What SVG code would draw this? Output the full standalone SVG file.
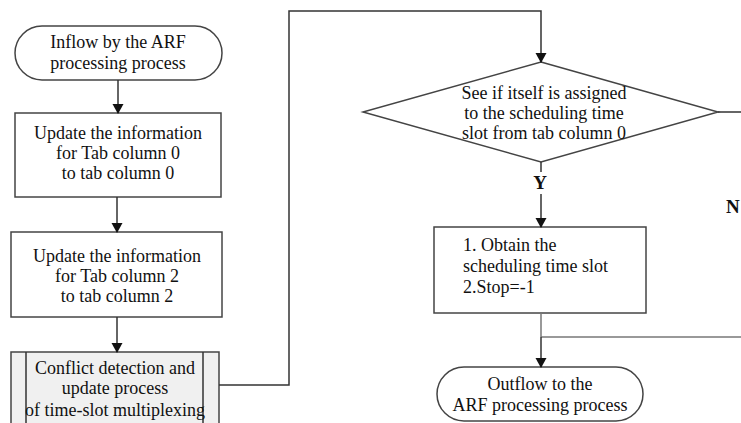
<svg xmlns="http://www.w3.org/2000/svg" width="741" height="423" viewBox="0 0 741 423">
<defs>
<marker id="arr" markerWidth="10" markerHeight="12" refX="9" refY="6" orient="auto" markerUnits="userSpaceOnUse">
<path d="M0,0.5 L10,6 L0,11.5 Z" fill="#111"/>
</marker>
<style>
.shape{fill:#fff;stroke:#444;stroke-width:1.5}
.t{font-family:"Liberation Serif","Times New Roman",serif;font-size:18px;fill:#111;text-anchor:middle}
.l{text-anchor:start}
.b{font-weight:bold;font-size:19px}
.c{fill:none;stroke:#333;stroke-width:1.5}
.cg{fill:none;stroke:#777;stroke-width:1.5}
</style>
</defs>
<rect width="741" height="423" fill="#fff"/>
<g id="start">
<rect class="shape" x="15" y="26" width="207" height="54" rx="27" ry="27"/>
<text class="t" x="118" y="48">Inflow by the ARF</text>
<text class="t" x="118" y="69">processing process</text>
</g>
<g id="update0">
<rect class="shape" x="15" y="113" width="206" height="84"/>
<text class="t" x="118" y="139">Update the information</text>
<text class="t" x="118" y="159">for Tab column 0</text>
<text class="t" x="118" y="179">to tab column 0</text>
</g>
<g id="update2">
<rect class="shape" x="11" y="232" width="211" height="85"/>
<text class="t" x="117" y="262">Update the information</text>
<text class="t" x="117" y="282">for Tab column 2</text>
<text class="t" x="117" y="302">to tab column 2</text>
</g>
<g id="conflict">
<rect class="shape" x="11" y="352" width="208" height="72" style="fill:#f0f0f0"/>
<line class="c" x1="26" y1="352" x2="26" y2="424"/>
<line class="c" x1="203" y1="352" x2="203" y2="424"/>
<text class="t" x="115" y="374">Conflict detection and</text>
<text class="t" x="115" y="394">update process</text>
<text class="t" x="115" y="416">of time-slot multiplexing</text>
</g>
<g id="decision">
<polygon class="shape" points="541,62 718,112 541,162 363,112"/>
<text class="t" x="544" y="99">See if itself is assigned</text>
<text class="t" x="544" y="119">to the scheduling time</text>
<text class="t" x="544" y="139">slot from tab column 0</text>
</g>
<g id="obtain">
<rect class="shape" x="434" y="227" width="212" height="86"/>
<text class="t l" x="463" y="251">1. Obtain the</text>
<text class="t l" x="463" y="272">scheduling time slot</text>
<text class="t l" x="463" y="293">2.Stop=-1</text>
</g>
<g id="end">
<rect class="shape" x="437" y="367" width="206" height="54" rx="27" ry="27"/>
<text class="t" x="540" y="390">Outflow to the</text>
<text class="t" x="540" y="411">ARF processing process</text>
</g>
<g id="connectors">
<line class="c" x1="118" y1="80" x2="118" y2="113" marker-end="url(#arr)"/>
<line class="c" x1="117" y1="197" x2="117" y2="232" marker-end="url(#arr)"/>
<line class="c" x1="117" y1="317" x2="117" y2="352" marker-end="url(#arr)"/>
<polyline class="c" points="219,385 289,385 289,11 541,11 541,62" marker-end="url(#arr)"/>
<line class="c" x1="541" y1="162" x2="541" y2="172"/>
<line class="c" x1="541" y1="194" x2="541" y2="227" marker-end="url(#arr)"/>
<line class="c" x1="718" y1="112" x2="741" y2="112"/>
<line class="cg" x1="541" y1="313" x2="541" y2="337"/>
<line class="cg" x1="541" y1="337" x2="741" y2="337"/>
<line class="c" x1="541" y1="337" x2="541" y2="367" marker-end="url(#arr)"/>
<text class="t b" x="540" y="189">Y</text>
<text class="t b l" x="726" y="213">N</text>
</g>
</svg>
